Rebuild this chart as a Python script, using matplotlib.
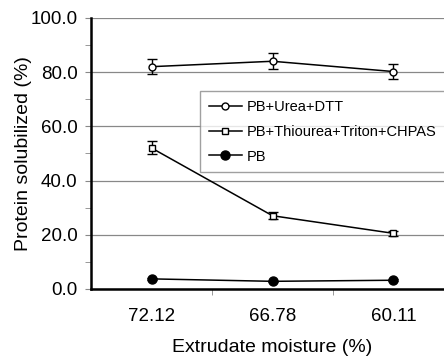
import matplotlib.pyplot as plt
import numpy as np

plt.rcParams['font.family'] = ['Liberation Sans', 'DejaVu Sans']

# Extrudate moisture levels and solubilized protein per extraction buffer
moisture = ["72.12", "66.78", "60.11"]
urea_dtt = [82.0, 84.0, 80.2]
urea_dtt_err = [2.8, 2.9, 2.7]
thiourea = [52.0, 27.0, 20.5]
thiourea_err = [2.4, 1.2, 0.9]
pb = [3.7, 2.8, 3.2]
pb_err = [0.4, 0.3, 0.3]

fig = plt.figure(figsize=(4.44, 3.58), dpi=100)
ax = fig.add_axes([0.205, 0.193, 0.8175, 0.757])

x = np.arange(len(moisture))

common = dict(color="black", linewidth=1.1, capsize=3.3, elinewidth=1, capthick=1, zorder=3)
eb1 = ax.errorbar(x, urea_dtt, yerr=urea_dtt_err, marker="o", markersize=5,
                  markerfacecolor="white", markeredgecolor="black", **common)
eb2 = ax.errorbar(x, thiourea, yerr=thiourea_err, marker="s", markersize=5,
                  markerfacecolor="white", markeredgecolor="black", **common)
eb3 = ax.errorbar(x, pb, yerr=pb_err, marker="o", markersize=6.5,
                  markerfacecolor="black", **common)

ax.set_xlim(-0.5, 2.5)
ax.set_ylim(0, 100)
ax.set_yticks(np.arange(0, 101, 20))
ax.set_yticklabels([f"{v:.1f}" for v in np.arange(0, 101, 20)])
ax.set_yticks(np.arange(10, 100, 20), minor=True)
ax.set_xticks(x)
ax.set_xticklabels(moisture)
ax.set_xticks([0.5, 1.5], minor=True)
ax.tick_params(axis="x", which="major", length=0, pad=14, labelsize=13.5)
ax.tick_params(axis="x", which="minor", length=4.3, direction="out", color="#888888")
ax.tick_params(axis="y", which="both", length=4.3, direction="out", color="#888888",
               labelsize=13.5, pad=5.5)

ax.grid(axis="y", which="major", color="#888888", linewidth=0.9)
ax.set_axisbelow(True)
for side in ["top", "right"]:
    ax.spines[side].set_visible(False)
ax.spines["left"].set_linewidth(1.8)
ax.spines["bottom"].set_linewidth(1.8)

ax.set_xlabel("Extrudate moisture (%)", fontsize=14, labelpad=10)
ax.set_ylabel("Protein solubilized (%)", fontsize=14, labelpad=-1)

# legend shows only line + marker, no error bars
leg = fig.legend([eb1[0], eb2[0], eb3[0]],
                 ["PB+Urea+DTT", "PB+Thiourea+Triton+CHPAS", "PB"],
                 loc="upper left", bbox_to_anchor=(0.45, 0.746),
                 fontsize=10.5, frameon=True, fancybox=False, edgecolor="#888888",
                 handlelength=2.3, labelspacing=0.75, borderpad=0.6, handletextpad=0.3,
                 borderaxespad=0)
leg.get_frame().set_linewidth(1.0)

fig.savefig("out.png", dpi=100)
